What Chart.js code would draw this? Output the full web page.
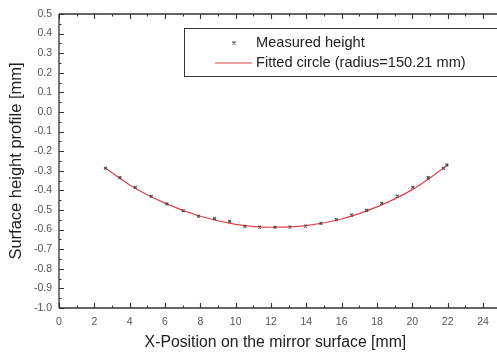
<!DOCTYPE html>
<html>
<head>
<meta charset="utf-8">
<script src="https://cdn.jsdelivr.net/npm/chart.js@4/dist/chart.umd.min.js"></script>
<style>
html,body{margin:0;padding:0;background:#fff;}
#wrap{width:497px;height:356px;position:relative;}
</style>
</head>
<body>
<div id="wrap"><canvas id="c" width="497" height="356"></canvas></div>
<script>
// ---- data ----
const measuredX = [2.63, 3.45, 4.32, 5.22, 6.11, 7.03, 7.90, 8.80, 9.66, 10.52, 11.36, 12.23,
                   13.07, 13.96, 14.83, 15.70, 16.56, 17.42, 18.27, 19.15, 20.03, 20.90, 21.76, 21.96];
const measuredY = [-0.287, -0.335, -0.384, -0.430, -0.469, -0.504, -0.532, -0.544, -0.558, -0.583, -0.587, -0.588,
                   -0.587, -0.582, -0.568, -0.549, -0.526, -0.502, -0.466, -0.429, -0.384, -0.335, -0.287, -0.270];
const fitX = [2.6, 4.0, 6.0, 8.0, 10.0, 12.0, 14.0, 16.0, 18.0, 20.0, 22.0];
const fitY = [-0.284, -0.372, -0.465, -0.532, -0.573, -0.588, -0.580, -0.546, -0.484, -0.396, -0.272];
const xTickValues = [0, 2, 4, 6, 8, 10, 12, 14, 16, 18, 20, 22, 24];
const yTickValues = [0.5, 0.4, 0.3, 0.2, 0.1, 0.0, -0.1, -0.2, -0.3, -0.4, -0.5, -0.6, -0.7, -0.8, -0.9, -1.0];
const seriesNames = ['Measured height', 'Fitted circle (radius=150.21 mm)'];
const xTitle = 'X-Position on the mirror surface [mm]';
const yTitle = 'Surface height profile [mm]';

const RED = '#e2404c';
const MARK = '#4a4a4a';
const AXIS = '#333333';
const FONT = '"Liberation Sans", Arial, sans-serif';

const frame = {
  id: 'frame',
  afterDraw(chart) {
    const ctx = chart.ctx, xs = chart.scales.x, ys = chart.scales.y, a = chart.chartArea;
    ctx.save();
    ctx.strokeStyle = AXIS;
    ctx.lineWidth = 1.3;
    ctx.beginPath();
    ctx.moveTo(a.left, a.top); ctx.lineTo(a.left, a.bottom);
    ctx.moveTo(a.left, a.bottom); ctx.lineTo(chart.width, a.bottom);
    ctx.moveTo(a.left, a.top); ctx.lineTo(chart.width, a.top);
    ctx.stroke();
    ctx.lineWidth = 1.1;
    ctx.beginPath();
    for (let v = 0; v <= 24; v += 1) {
      const px = Math.round(xs.getPixelForValue(v)) + 0.5;
      const len = (v % 2 === 0) ? 5 : 2.5;
      ctx.moveTo(px, a.bottom); ctx.lineTo(px, a.bottom - len);
      ctx.moveTo(px, a.top); ctx.lineTo(px, a.top + len);
    }
    for (let i = -20; i <= 10; i++) {
      const v = i * 0.05;
      const py = Math.round(ys.getPixelForValue(v)) + 0.5;
      const len = (i % 2 === 0) ? 5 : 2.5;
      ctx.moveTo(a.left, py); ctx.lineTo(a.left + len, py);
    }
    ctx.stroke();

    // legend box
    ctx.lineWidth = 1;
    ctx.strokeStyle = AXIS;
    ctx.strokeRect(184.5, 28.5, 330, 48);
    // marker sample
    ctx.strokeStyle = MARK;
    ctx.lineWidth = 1.2;
    ctx.beginPath();
    ctx.moveTo(232.5, 41.5); ctx.lineTo(235.5, 44.5);
    ctx.moveTo(235.5, 41.5); ctx.lineTo(232.5, 44.5);
    ctx.stroke();
    // line sample
    ctx.strokeStyle = RED;
    ctx.lineWidth = 1.2;
    ctx.beginPath();
    ctx.moveTo(215, 63); ctx.lineTo(252, 63);
    ctx.stroke();
    ctx.fillStyle = '#222';
    ctx.font = '14.6px ' + FONT;
    ctx.textBaseline = 'middle';
    ctx.textAlign = 'left';
    ctx.fillText(seriesNames[0], 256, 43);
    ctx.fillText(seriesNames[1], 256, 63);
    ctx.restore();
  }
};

new Chart(document.getElementById('c'), {
  type: 'scatter',
  data: {
    datasets: [
      {
        label: seriesNames[1],
        type: 'line',
        data: fitX.map((x, i) => ({x, y: fitY[i]})),
        borderColor: RED,
        borderWidth: 1.2,
        pointRadius: 0,
        tension: 0.4,
        cubicInterpolationMode: 'monotone',
        fill: false,
        order: 2
      },
      {
        label: seriesNames[0],
        data: measuredX.map((x, i) => ({x, y: measuredY[i]})),
        pointStyle: 'crossRot',
        pointRadius: 2,
        borderColor: MARK,
        backgroundColor: MARK,
        borderWidth: 1.2,
        order: 1
      }
    ]
  },
  options: {
    responsive: false,
    animation: false,
    devicePixelRatio: 1,
    layout: {padding: {top: 14, right: 0, bottom: 0, left: 0}},
    plugins: {legend: {display: false}, tooltip: {enabled: false}},
    scales: {
      x: {
        type: 'linear', min: 0, max: 24.5,
        afterBuildTicks(s) { s.ticks = xTickValues.map(v => ({value: v})); },
        afterFit(s) { s.height = 48; },
        grid: {display: false, drawTicks: false},
        border: {display: false},
        ticks: {
          padding: 8, color: '#555', font: {family: FONT, size: 10.5},
          maxRotation: 0, autoSkip: false,
          callback: v => String(v)
        },
        title: {display: true, text: xTitle, color: '#222', font: {family: FONT, size: 15.8}, padding: {top: 0, bottom: 4}}
      },
      y: {
        type: 'linear', min: -1.0, max: 0.5,
        afterBuildTicks(s) { s.ticks = yTickValues.map(v => ({value: v})); },
        afterFit(s) { s.width = 59; },
        grid: {display: false, drawTicks: false},
        border: {display: false},
        ticks: {
          padding: 7, color: '#555', font: {family: FONT, size: 10.5},
          autoSkip: false,
          callback: v => v.toFixed(1)
        },
        title: {display: true, text: yTitle, color: '#222', font: {family: FONT, size: 16.5}, padding: {top: 7, bottom: 0}}
      }
    }
  },
  plugins: [frame]
});
</script>
</body>
</html>
